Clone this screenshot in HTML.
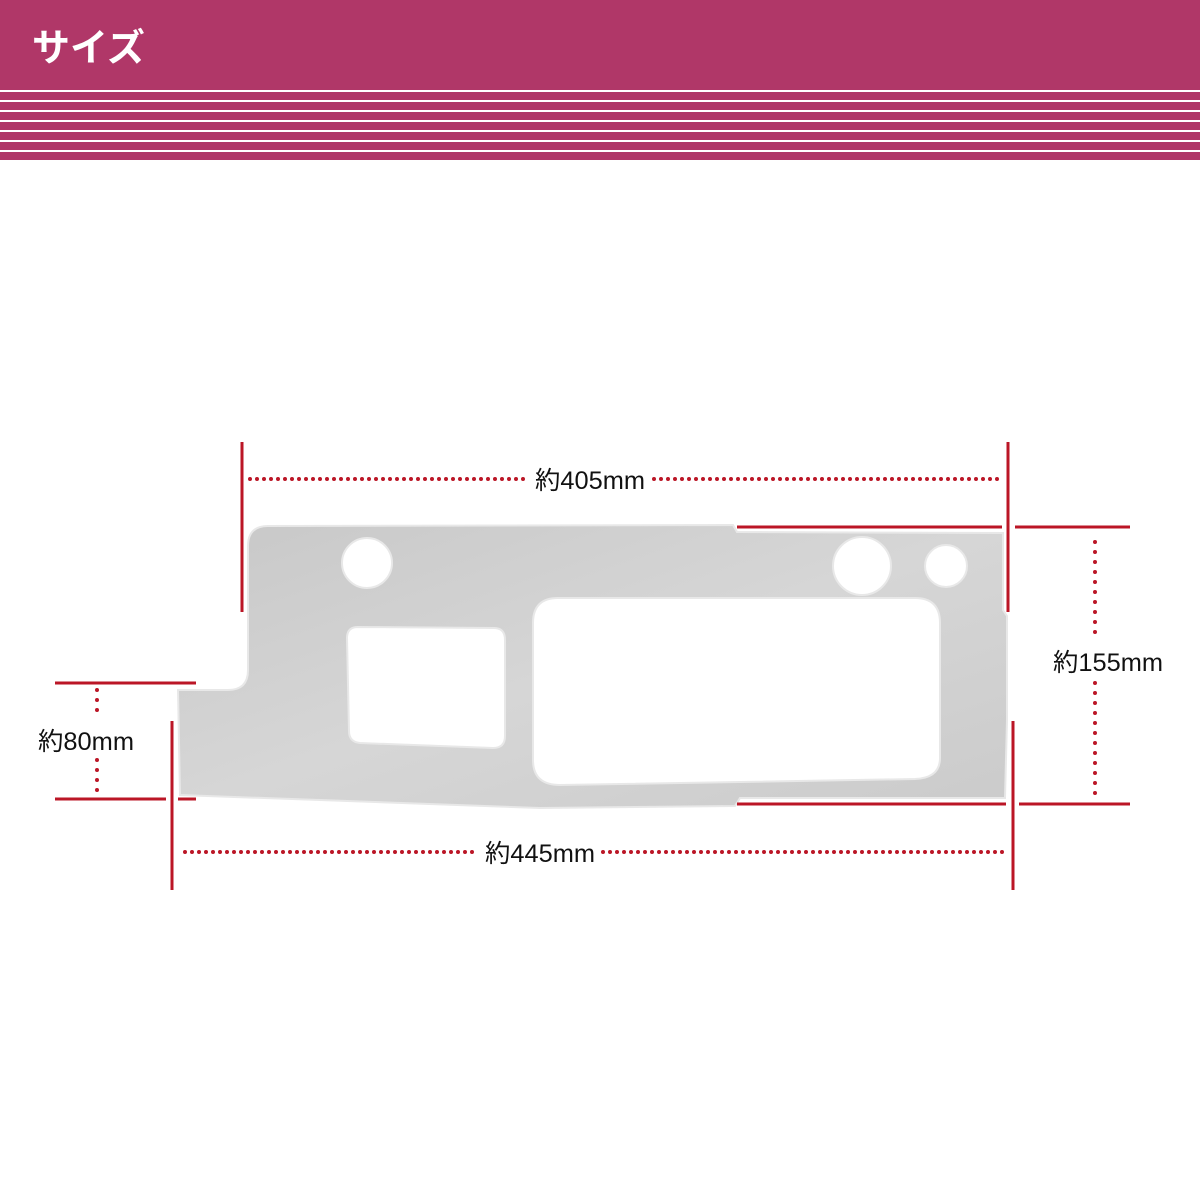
<!DOCTYPE html>
<html><head><meta charset="utf-8"><style>
html,body{margin:0;padding:0;background:#fff;}
body{width:1200px;height:1200px;position:relative;overflow:hidden;}
svg{position:absolute;left:0;top:0;}
</style></head><body>
<svg width="1200" height="1200" viewBox="0 0 1200 1200" xmlns="http://www.w3.org/2000/svg">
<defs>
<linearGradient id="g" x1="0" y1="0" x2="1" y2="1">
<stop offset="0" stop-color="#c8c8c8"/><stop offset="0.5" stop-color="#d6d6d6"/><stop offset="1" stop-color="#cbcbcb"/>
</linearGradient>
</defs>
<rect x="0" y="0" width="1200" height="160" fill="#b03768"/>
<g fill="#fff">
<rect x="0" y="90" width="1200" height="2"/>
<rect x="0" y="100" width="1200" height="2"/>
<rect x="0" y="110" width="1200" height="2"/>
<rect x="0" y="120" width="1200" height="2"/>
<rect x="0" y="130" width="1200" height="2"/>
<rect x="0" y="140" width="1200" height="2"/>
<rect x="0" y="150" width="1200" height="2"/>
</g>
<text x="32" y="61" fill="#fff" font-family="Liberation Sans, Noto Sans CJK JP, sans-serif" font-size="38" font-weight="bold">サイズ</text>

<path fill-rule="evenodd" fill="url(#g)" stroke="#e8e8e8" stroke-width="2" d="
M 268,526 L 733,525 L 737,532 L 1003,533 L 1003,610 L 1007,616 L 1007,720 L 1005,798 L 740,798 L 735,806 L 540,808 L 180,795 L 178,690 L 228,690 Q 248,690 248,670 L 248,546 Q 248,526 268,526 Z
M 392,563 A 25 25 0 1 0 342,563 A 25 25 0 1 0 392,563 Z
M 891,566 A 29 29 0 1 0 833,566 A 29 29 0 1 0 891,566 Z
M 967,566 A 21 21 0 1 0 925,566 A 21 21 0 1 0 967,566 Z
M 358,627 L 494,628 Q 505,628 505,640 L 505,736 Q 505,748 493,748 L 360,743 Q 349,742 349,731 L 347,638 Q 347,627 358,627 Z
M 558,598 L 915,598 Q 940,598 940,623 L 940,758 Q 940,778 915,779 L 560,785 Q 533,785 533,760 L 533,623 Q 533,598 558,598 Z"/>

<g fill="none" stroke="#bb1626" stroke-width="3">
<line x1="242" y1="442" x2="242" y2="612"/>
<line x1="1008" y1="442" x2="1008" y2="612"/>
<line x1="737" y1="527" x2="1002" y2="527"/>
<line x1="1015" y1="527" x2="1130" y2="527"/>
<line x1="737" y1="804" x2="1006" y2="804"/>
<line x1="1019" y1="804" x2="1130" y2="804"/>
<line x1="1013" y1="721" x2="1013" y2="890"/>
<line x1="172" y1="721" x2="172" y2="890"/>
<line x1="55" y1="683" x2="196" y2="683"/>
<line x1="55" y1="799" x2="166" y2="799"/>
<line x1="178" y1="799" x2="196" y2="799"/>
</g>
<g fill="none" stroke="#bb1626" stroke-width="4" stroke-linecap="round" stroke-dasharray="0 7">
<line x1="250" y1="479" x2="526" y2="479"/>
<line x1="654" y1="479" x2="1000" y2="479"/>
<line x1="185" y1="852" x2="478" y2="852"/>
<line x1="603" y1="852" x2="1005" y2="852"/>
</g>
<g fill="none" stroke="#bb1626" stroke-width="4" stroke-linecap="round" stroke-dasharray="0 10">
<line x1="1095" y1="542" x2="1095" y2="642"/>
<line x1="1095" y1="683" x2="1095" y2="796"/>
<line x1="97" y1="690" x2="97" y2="720"/>
<line x1="97" y1="760" x2="97" y2="792"/>
</g>
<g fill="#111" font-family="Liberation Sans, Noto Sans CJK JP, sans-serif" font-size="22">
<text x="535" y="489" textLength="110" lengthAdjust="spacingAndGlyphs" font-size="25">約405mm</text>
<text x="485" y="862" textLength="110" lengthAdjust="spacingAndGlyphs" font-size="25">約445mm</text>
<text x="1053" y="671" textLength="110" lengthAdjust="spacingAndGlyphs" font-size="25">約155mm</text>
<text x="38" y="750" textLength="96" lengthAdjust="spacingAndGlyphs" font-size="25">約80mm</text>
</g>
</svg>
</body></html>
